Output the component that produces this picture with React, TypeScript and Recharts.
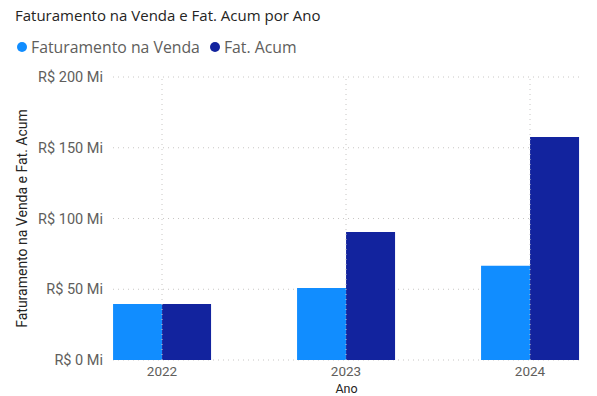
import { BarChart, Bar, XAxis, YAxis, CartesianGrid, ReferenceLine } from 'recharts';

const anos = ['2022', '2023', '2024'];
const faturamentoVenda = [39.6, 50.9, 66.6];
const fatAcum = [39.6, 90.5, 157.6];
const yTicks = [0, 50, 100, 150, 200];

const LIGHT = '#118DFF';
const DARK = '#12239E';
const FONT = 'Roboto, "Segoe UI", sans-serif';
const TITLE_FONT = '"Open Sans", "Segoe UI", sans-serif';
const GRID = '#C8C6C4';

const data = anos.map((ano, i) => ({
  ano,
  venda: faturamentoVenda[i],
  acum: fatAcum[i],
}));

const legendItems = [
  { label: 'Faturamento na Venda', color: LIGHT },
  { label: 'Fat. Acum', color: DARK },
];

export default function App() {
  return (
    <div style={{ position: 'absolute', left: 0, top: 0, width: 597, height: 396, background: '#fff', overflow: 'hidden' }}>
      <div style={{ position: 'absolute', left: 15, top: 5, fontFamily: TITLE_FONT, fontSize: 15, color: '#252423' }}>
        Faturamento na Venda e Fat. Acum por Ano
      </div>
      <div style={{ position: 'absolute', left: 17, top: 36, display: 'flex', gap: 10, fontFamily: TITLE_FONT, fontSize: 15.8, color: '#605E5C' }}>
        {legendItems.map(it => (
          <span key={it.label} style={{ display: 'flex', alignItems: 'center', gap: 4 }}>
            <span style={{ width: 10, height: 10, borderRadius: 5, background: it.color, display: 'inline-block' }} />
            {it.label}
          </span>
        ))}
      </div>
      <div style={{ position: 'absolute', left: 0, top: 0 }}>
        <BarChart
          width={597}
          height={396}
          data={data}
          margin={{ top: 77, right: 17, bottom: 0, left: 0 }}
          barCategoryGap="23.4%"
          barGap={0}
        >
          <CartesianGrid stroke={GRID} strokeDasharray="1 4" vertical={false} />
          {anos.map(a => (
            <ReferenceLine key={a} x={a} stroke={GRID} strokeDasharray="1 4" />
          ))}
          <XAxis
            dataKey="ano"
            padding={{ left: -43, right: -42 }}
            axisLine={false}
            tickLine={false}
            tickMargin={0}
            height={36}
            tick={{ fontFamily: FONT, fontSize: 13.5, fill: '#605E5C' }}
            label={{ value: 'Ano', position: 'insideBottom', offset: 3, fontFamily: FONT, fontSize: 12.5, fill: '#252423' }}
          />
          <YAxis
            width={113}
            domain={[0, 200]}
            ticks={yTicks}
            axisLine={false}
            tickLine={false}
            tickMargin={4}
            tickFormatter={(v: number) => `R$ ${v} Mi`}
            tick={{ fontFamily: FONT, fontSize: 14.5, fill: '#605E5C' }}
            label={{
              value: 'Faturamento na Venda e Fat. Acum',
              angle: -90,
              position: 'center',
              dx: -34,
              fontFamily: FONT,
              fontSize: 14,
              fill: '#252423',
            }}
          />
          <Bar dataKey="venda" name="Faturamento na Venda" fill={LIGHT} isAnimationActive={false} />
          <Bar dataKey="acum" name="Fat. Acum" fill={DARK} isAnimationActive={false} />
        </BarChart>
      </div>
    </div>
  );
}
